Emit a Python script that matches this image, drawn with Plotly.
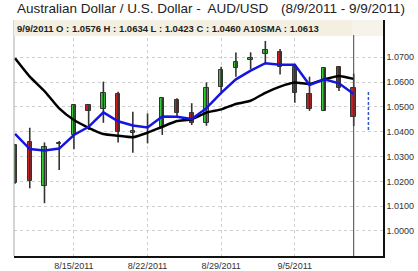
import plotly.graph_objects as go

dates = ["8/9/2011", "8/10/2011", "8/11/2011", "8/12/2011", "8/15/2011", "8/16/2011",
         "8/17/2011", "8/18/2011", "8/19/2011", "8/22/2011", "8/23/2011", "8/24/2011",
         "8/25/2011", "8/26/2011", "8/29/2011", "8/30/2011", "8/31/2011", "9/1/2011",
         "9/2/2011", "9/5/2011", "9/6/2011", "9/7/2011", "9/8/2011", "9/9/2011"]
next_date = "9/12/2011"

opens  = [1.0192, 1.0357, 1.0182, 1.0352, 1.0387, 1.0508, 1.0490, 1.0551, 1.0396, 1.0418,
          1.0420, 1.0528, 1.0474, 1.0434, 1.0581, 1.0658, 1.0688, 1.0712, 1.0723, 1.0662,
          1.0551, 1.0485, 1.0662, 1.0576]
highs  = [1.0350, 1.0416, 1.0357, 1.0363, 1.0511, 1.0511, 1.0602, 1.0561, 1.0481, 1.0474,
          1.0535, 1.0535, 1.0515, 1.0599, 1.0662, 1.0719, 1.0720, 1.0766, 1.0733, 1.0669,
          1.0622, 1.0656, 1.0665, 1.0634]
lows   = [1.0190, 1.0172, 1.0112, 1.0246, 1.0329, 1.0407, 1.0436, 1.0357, 1.0315, 1.0353,
          1.0387, 1.0460, 1.0427, 1.0424, 1.0555, 1.0622, 1.0652, 1.0676, 1.0631, 1.0517,
          1.0484, 1.0485, 1.0564, 1.0423]
closes = [1.0347, 1.0203, 1.0337, 1.0356, 1.0508, 1.0484, 1.0557, 1.0400, 1.0403, 1.0420,
          1.0535, 1.0477, 1.0436, 1.0575, 1.0649, 1.0680, 1.0697, 1.0729, 1.0660, 1.0555,
          1.0490, 1.0656, 1.0575, 1.0460]

blue_ma = [1.0391, 1.0330, 1.0324, 1.0332, 1.0387, 1.0420, 1.0478, 1.0442, 1.0425, 1.0417,
           1.0461, 1.0460, 1.0451, 1.0495, 1.0557, 1.0611, 1.0646, 1.0676, 1.0670, 1.0670,
           1.0588, 1.0611, 1.0595, 1.0552]
sma10 = [1.0696, 1.0622, 1.0564, 1.0494, 1.0447, 1.0416, 1.0391, 1.0384, 1.0378, 1.0396,
         1.0420, 1.0443, 1.0450, 1.0477, 1.0490, 1.0512, 1.0525, 1.0557, 1.0582, 1.0598,
         1.0592, 1.0611, 1.0625, 1.0613]

projection = [1.0407, 1.0560]

y_ticks = [1.00, 1.01, 1.02, 1.03, 1.04, 1.05, 1.06, 1.07]
y_tick_text = ["1.0000", "1.0100", "1.0200", "1.0300", "1.0400", "1.0500", "1.0600", "1.0700"]
x_ticks = ["8/15/2011", "8/22/2011", "8/29/2011", "9/5/2011"]

title_left = "Australian Dollar / U.S. Dollar -\u00a0 AUD/USD"
title_right = "(8/9/2011 - 9/9/2011)"
header = "9/9/2011 O : 1.0576 H : 1.0634 L : 1.0423 C : 1.0460 A10SMA : 1.0613"

FONT = "Liberation Sans, Arial, sans-serif"
MIN_BODY = 0.0003

fig = go.Figure()

# wicks
wx, wy = [], []
for d, h, l in zip(dates, highs, lows):
    wx += [d, d, None]
    wy += [l, h, None]
fig.add_trace(go.Scatter(x=wx, y=wy, mode="lines", line=dict(color="#333333", width=1.6),
                         hoverinfo="skip", showlegend=False))

# bodies
for up, color in ((True, "#33cc33"), (False, "#cc2020")):
    bx, bbase, bh = [], [], []
    for d, o, c in zip(dates, opens, closes):
        if (c >= o) == up:
            bx.append(d)
            lo = min(o, c)
            hgt = abs(c - o)
            if hgt < MIN_BODY:
                lo -= (MIN_BODY - hgt) / 2
                hgt = MIN_BODY
            bbase.append(lo)
            bh.append(hgt)
    fig.add_trace(go.Bar(x=bx, y=bh, base=bbase, width=0.3,
                         marker=dict(color=color, line=dict(color="#333333", width=1)),
                         showlegend=False))

fig.add_trace(go.Scatter(x=dates, y=sma10, mode="lines",
                         line=dict(color="#000000", width=2.5, shape="spline", smoothing=0.5),
                         showlegend=False))
fig.add_trace(go.Scatter(x=dates, y=blue_ma, mode="lines",
                         line=dict(color="#1515e0", width=2.5), showlegend=False))
fig.add_trace(go.Scatter(x=[next_date, next_date], y=projection, mode="lines",
                         line=dict(color="#3355cc", width=1.5, dash="3px,2px"), showlegend=False))

shapes = [
    # left edge line
    dict(type="line", xref="paper", yref="paper", x0=0, x1=0, y0=0, y1=1,
         line=dict(color="#aaaaaa", width=1)),
    # header boxes
    dict(type="rect", xref="paper", yref="paper", x0=0, x1=(352 - 14) / 369, y0=220 / 236, y1=1,
         fillcolor="#f3f0e1", line=dict(width=0)),
    dict(type="rect", xref="paper", yref="paper", x0=(352 - 14) / 369, x1=1.0, y0=220 / 236, y1=1,
         fillcolor="#f6f4ea", line=dict(width=0)),
    # current date marker
    dict(type="line", xref="x", yref="paper", x0=dates[-1], x1=dates[-1], y0=0, y1=221 / 236,
         line=dict(color="#444444", width=1)),
]

annotations = [
    dict(text=title_left, xref="paper", yref="paper", x=(15 - 14) / 369, y=1 + (20 - 9) / 236,
         xanchor="left", yanchor="middle", showarrow=False,
         font=dict(family=FONT, size=13.5, color="#222222")),
    dict(text=title_right, xref="paper", yref="paper", x=(407 - 14) / 369, y=1 + (20 - 9) / 236,
         xanchor="right", yanchor="middle", showarrow=False,
         font=dict(family=FONT, size=13.5, color="#222222")),
    dict(text="<b>" + header + "</b>", xref="paper", yref="paper", x=0, xshift=1,
         y=(256 - 28) / 236, xanchor="left", yanchor="middle", showarrow=False,
         font=dict(family=FONT, size=9.5, color="#222222")),
]

fig.update_layout(
    width=418, height=271,
    margin=dict(l=14, r=35, t=20, b=15, autoexpand=False),
    paper_bgcolor="white", plot_bgcolor="white",
    barmode="overlay", bargap=0,
    showlegend=False,
    shapes=shapes, annotations=annotations,
    xaxis=dict(type="category", categoryorder="array", categoryarray=dates + [next_date],
               range=[-0.07, 24.99], tickmode="array", tickvals=x_ticks, ticktext=x_ticks,
               showgrid=True, gridcolor="#cfcfcf", griddash="dot", gridwidth=1,
               showline=True, linecolor="#111111", linewidth=1.5, zeroline=False,
               ticks="", tickfont=dict(family=FONT, size=9, color="#333333"), fixedrange=True),
    yaxis=dict(side="right", range=[0.98992, 1.08503], tickmode="array",
               tickvals=y_ticks, ticktext=y_tick_text,
               showgrid=True, gridcolor="#cfcfcf", griddash="dot", gridwidth=1,
               showline=True, linecolor="#111111", linewidth=1.5, zeroline=False,
               ticks="", tickfont=dict(family=FONT, size=9, color="#333333"), fixedrange=True),
)

fig.write_html("out.html")
